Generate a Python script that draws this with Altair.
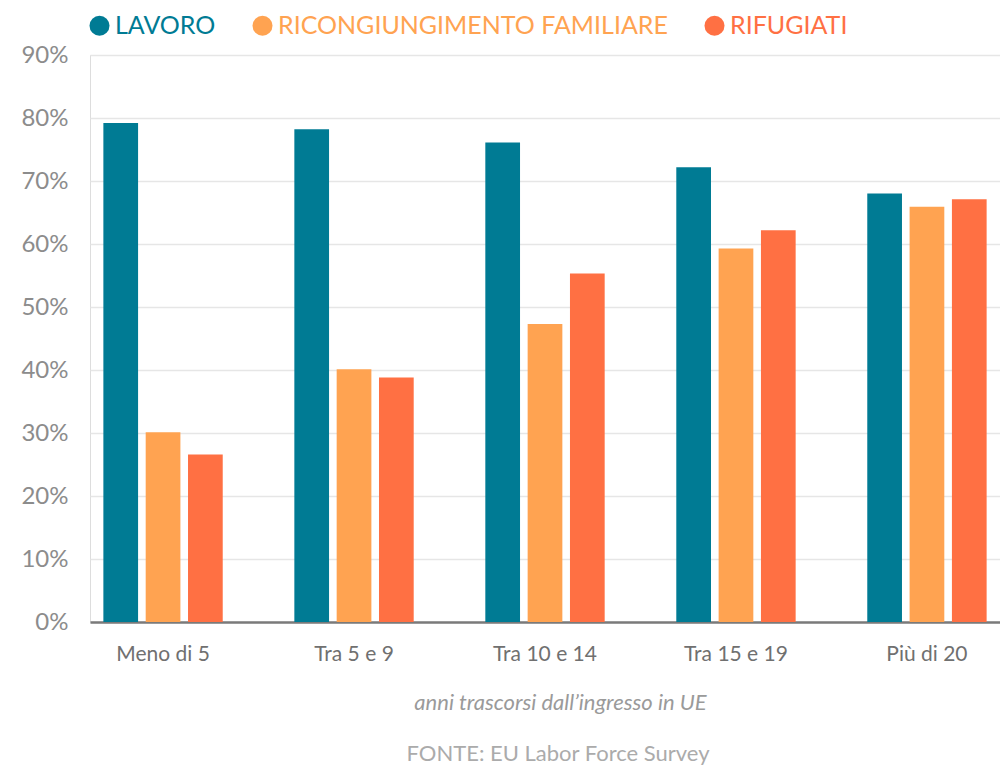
import altair as alt
import pandas as pd

categories = ["Meno di 5", "Tra 5 e 9", "Tra 10 e 14", "Tra 15 e 19", "Più di 20"]
series = ["LAVORO", "RICONGIUNGIMENTO FAMILIARE", "RIFUGIATI"]
lavoro = [79.2, 78.2, 76.1, 72.2, 68.0]
ricongiungimento = [30.1, 40.1, 47.3, 59.3, 65.9]
rifugiati = [26.6, 38.8, 55.3, 62.2, 67.1]
colors = ["#007B94", "#FFA351", "#FF7043"]
y_ticks = [0, 10, 20, 30, 40, 50, 60, 70, 80, 90]

rows = []
for s, vals in zip(series, [lavoro, ricongiungimento, rifugiati]):
    for c, v in zip(categories, vals):
        rows.append({"cat": c, "serie": s, "val": v})
df = pd.DataFrame(rows)

label_color_expr = (
    "datum.label == 'LAVORO' ? '#007B94' : "
    "(datum.label == 'RIFUGIATI' ? '#FF7043' : '#FFA351')"
)

chart = alt.Chart(df).mark_bar().encode(
    x=alt.X(
        "cat:N",
        sort=categories,
        scale=alt.Scale(paddingInner=0.375, paddingOuter=0.07),
        axis=alt.Axis(
            title="anni trascorsi dall\u2019ingresso in UE",
            labelAngle=0,
            ticks=False,
            labelPadding=21,
            labelFont="Lato",
            labelFontSize=21,
            labelColor="#707070",
            domainColor="#7a7a7a",
            domainWidth=2.5,
            titleFont="Lato",
            titleFontStyle="italic",
            titleFontWeight="normal",
            titleFontSize=22,
            titleColor="#9a9a9a",
            titleX=470,
            titleY=87,
            titleBaseline="alphabetic",
        ),
    ),
    xOffset=alt.XOffset(
        "serie:N", sort=series, scale=alt.Scale(paddingInner=0.18, paddingOuter=0)
    ),
    y=alt.Y(
        "val:Q",
        scale=alt.Scale(domain=[0, 90], nice=False),
        axis=alt.Axis(
            title=None,
            values=y_ticks,
            labelExpr="datum.value + '%'",
            domain=False,
            ticks=False,
            labelPadding=22,
            labelFont="Lato",
            labelFontSize=24,
            labelColor="#8c8c8c",
            gridColor="#e6e6e6",
            gridWidth=1.5,
        ),
    ),
    color=alt.Color(
        "serie:N",
        sort=series,
        scale=alt.Scale(domain=series, range=colors),
        legend=alt.Legend(
            title=None,
            orient="none",
            legendX=-3,
            legendY=-42,
            direction="horizontal",
            symbolType="circle",
            symbolSize=400,
            symbolStrokeWidth=0,
            symbolOpacity=1,
            labelFont="Lato",
            labelFontSize=25,
            labelColor=alt.ExprRef(label_color_expr),
            labelOffset=3,
            labelLimit=600,
            columnPadding=34,
            padding=0,
        ),
    ),
).properties(
    width=910,
    height=567,
    autosize=alt.AutoSizeParams(type="none"),
    padding={"left": 82, "top": 47, "right": 0, "bottom": 144},
    title=alt.TitleParams(
        "FONTE: EU Labor Force Survey",
        orient="bottom",
        anchor="middle",
        frame="group",
        font="Lato",
        fontSize=22,
        fontWeight="normal",
        color="#ababab",
        offset=31,
        dx=13,
    ),
).configure_view(stroke=None).configure(background="white")

chart.save("out.html", embed_options={"renderer": "svg", "actions": False})
